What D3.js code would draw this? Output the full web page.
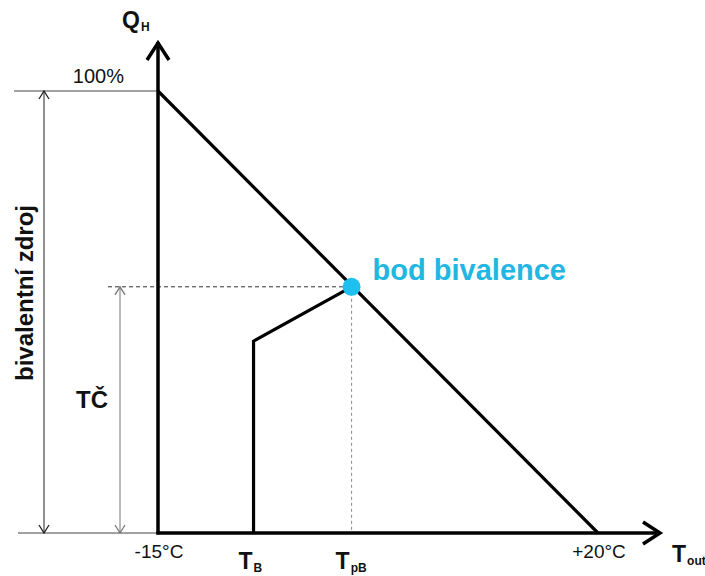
<!DOCTYPE html>
<html lang="cs">
<head>
<meta charset="UTF-8">
<title>Bod bivalence</title>
<script src="https://d3js.org/d3.v7.min.js"></script>
<style>
  body { margin: 0; background: #fff; font-family: "Liberation Sans", Arial, sans-serif; }
  svg text { font-family: "Liberation Sans", Arial, sans-serif; fill: #111; }
</style>
</head>
<body>
<div id="chart"></div>
<script>
// data (temperature in °C, heat demand in %)
const tempDomain = [-15, 20];
const tickTemps = [-15, 20];
const tickLabels = ["-15°C", "+20°C"];
const demandT = [-15, 20];
const demandQ = [100, 0];
const hpT = [-7.4, -7.4, 0.4];
const hpQ = [0, 43.4, 55.7];
const bivT = 0.4;
const bivQ = 55.7;

const width = 705, height = 576;
const x = d3.scaleLinear().domain(tempDomain).range([158, 598]);
const y = d3.scaleLinear().domain([0, 100]).range([533, 91]);

const svg = d3.select('#chart').append('svg')
    .attr('width', width)
    .attr('height', height);

const line = d3.line().x(d => x(d[0])).y(d => y(d[1]));

// thin reference lines
svg.append('line')
    .attr('x1', 14).attr('x2', x(-15))
    .attr('y1', y(100)).attr('y2', y(100))
    .attr('stroke', '#444').attr('stroke-width', 1);
svg.append('line')
    .attr('x1', 18).attr('x2', x(-15))
    .attr('y1', y(0)).attr('y2', y(0))
    .attr('stroke', '#444').attr('stroke-width', 1);

// dashed lines to bivalence point
svg.append('line')
    .attr('x1', 108).attr('x2', x(bivT))
    .attr('y1', y(bivQ)).attr('y2', y(bivQ))
    .attr('stroke', '#333').attr('stroke-width', 1)
    .attr('stroke-dasharray', '4,3');
svg.append('line')
    .attr('x1', x(bivT)).attr('x2', x(bivT))
    .attr('y1', y(bivQ)).attr('y2', y(0))
    .attr('stroke', '#888').attr('stroke-width', 1)
    .attr('stroke-dasharray', '3,3');

// dimension arrows
function dimArrow(xp, y1, y2, color) {
    svg.append('line')
        .attr('x1', xp).attr('x2', xp)
        .attr('y1', y1).attr('y2', y2)
        .attr('stroke', color).attr('stroke-width', 1);
    svg.append('path')
        .attr('d', `M${xp - 5},${y1 + 8}L${xp},${y1}L${xp + 5},${y1 + 8}`)
        .attr('fill', 'none').attr('stroke', color).attr('stroke-width', 1.3);
    svg.append('path')
        .attr('d', `M${xp - 5},${y2 - 8}L${xp},${y2}L${xp + 5},${y2 - 8}`)
        .attr('fill', 'none').attr('stroke', color).attr('stroke-width', 1.3);
}
dimArrow(44, y(100), y(0), '#222');
dimArrow(120, y(bivQ), y(0), '#777');

// axes
const ax0 = x(-15), ay0 = y(0);
svg.append('line')
    .attr('x1', ax0).attr('x2', ax0)
    .attr('y1', ay0 + 1.5).attr('y2', 42)
    .attr('stroke', '#000').attr('stroke-width', 3.5);
svg.append('path')
    .attr('d', `M${ax0 - 11},${60}L${ax0},${43}L${ax0 + 11},${60}`)
    .attr('fill', 'none').attr('stroke', '#000').attr('stroke-width', 3.5);
svg.append('line')
    .attr('x1', ax0 - 1.5).attr('x2', 660)
    .attr('y1', ay0).attr('y2', ay0)
    .attr('stroke', '#000').attr('stroke-width', 3.5);
svg.append('path')
    .attr('d', `M${643},${ay0 - 11}L${660},${ay0}L${643},${ay0 + 11}`)
    .attr('fill', 'none').attr('stroke', '#000').attr('stroke-width', 3.5);

// heat demand line
svg.append('path')
    .attr('d', line(demandT.map((t, i) => [t, demandQ[i]])))
    .attr('fill', 'none').attr('stroke', '#000').attr('stroke-width', 3.2);

// heat pump line
svg.append('path')
    .attr('d', line(hpT.map((t, i) => [t, hpQ[i]])))
    .attr('fill', 'none').attr('stroke', '#000').attr('stroke-width', 3.2)
    .attr('stroke-linejoin', 'miter');

// bivalence point
svg.append('circle')
    .attr('cx', x(bivT)).attr('cy', y(bivQ)).attr('r', 9)
    .attr('fill', '#1ec0f0');
svg.append('text')
    .attr('x', x(bivT) + 21).attr('y', y(bivQ) - 7)
    .style('font-size', '29px').style('font-weight', 'bold')
    .style('fill', '#22b6e2')
    .text('bod bivalence');

// tick labels
svg.selectAll('.tick-label')
    .data(tickTemps)
    .enter()
    .append('text')
    .attr('class', 'tick-label')
    .attr('x', d => x(d) + 1)
    .attr('y', 558)
    .attr('text-anchor', 'middle')
    .style('font-size', '19px')
    .text((d, i) => tickLabels[i]);

svg.append('text')
    .attr('x', 124).attr('y', 83)
    .attr('text-anchor', 'end')
    .style('font-size', '20px')
    .text('100%');

// subscript labels
function subLabel(xp, yp, main, sub) {
    const t = svg.append('text')
        .attr('x', xp).attr('y', yp)
        .style('font-weight', 'bold');
    t.append('tspan').style('font-size', '23px').text(main);
    t.append('tspan').attr('dy', 3).attr('dx', 1).style('font-size', '12px').text(sub);
}
subLabel(122, 28, 'Q', 'H');
subLabel(x(-7.4) - 15, 569, 'T', 'B');
subLabel(x(bivT) - 16, 569, 'T', 'pB');
subLabel(672, 562, 'T', 'out');

svg.append('text')
    .attr('x', 92).attr('y', 408)
    .attr('text-anchor', 'middle')
    .style('font-size', '24px').style('font-weight', 'bold')
    .text('TČ');

svg.append('text')
    .attr('transform', 'translate(33,293) rotate(-90)')
    .attr('text-anchor', 'middle')
    .style('font-size', '24px').style('font-weight', 'bold')
    .text('bivalentní zdroj');
</script>
</body>
</html>
